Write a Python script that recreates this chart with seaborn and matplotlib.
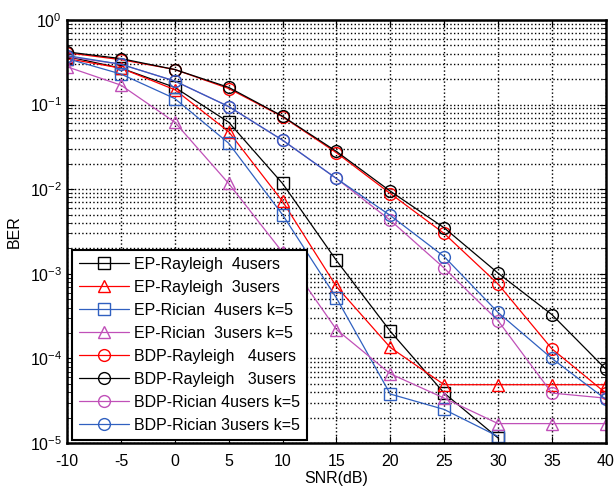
import numpy as np
import pandas as pd
import matplotlib
matplotlib.use("Agg")
import matplotlib.pyplot as plt
import seaborn as sns

# SNR axis
snr = [-10, -5, 0, 5, 10, 15, 20, 25, 30, 35, 40]

# BER curves (nan = not plotted)
ep_rayleigh_4 = [0.37, 0.27, 0.16, 0.062, 0.0117, 1.44e-3, 2.1e-4, 3.9e-5, 1.15e-5, np.nan, np.nan]
ep_rayleigh_3 = [0.35, 0.27, 0.15, 0.048, 0.0072, 7.1e-4, 1.35e-4, 4.9e-5, 4.9e-5, 4.9e-5, 4.9e-5]
ep_rician_4 = [0.35, 0.23, 0.118, 0.035, 0.005, 5.2e-4, 3.8e-5, 2.5e-5, 1.2e-5, np.nan, np.nan]
ep_rician_3 = [0.28, 0.17, 0.062, 0.0117, 1.8e-3, 2.2e-4, 6.6e-5, 3.4e-5, 1.7e-5, 1.7e-5, 1.7e-5]
bdp_rayleigh_4 = [0.41, 0.34, 0.26, 0.155, 0.072, 0.027, 0.0089, 0.0030, 7.6e-4, 1.3e-4, 3.9e-5]
bdp_rayleigh_3 = [0.42, 0.35, 0.26, 0.16, 0.073, 0.028, 0.0095, 0.0035, 1.02e-3, 3.3e-4, 7.5e-5]
bdp_rician_4 = [0.37, 0.30, 0.19, 0.095, 0.038, 0.0134, 0.0043, 1.17e-3, 2.8e-4, 3.9e-5, 3.4e-5]
bdp_rician_3 = [0.38, 0.30, 0.19, 0.095, 0.038, 0.0134, 0.0049, 0.0016, 3.5e-4, 1.0e-4, 3.3e-5]

labels = [
    "EP-Rayleigh  4users",
    "EP-Rayleigh  3users",
    "EP-Rician  4users k=5",
    "EP-Rician  3users k=5",
    "BDP-Rayleigh   4users",
    "BDP-Rayleigh   3users",
    "BDP-Rician 4users k=5",
    "BDP-Rician 3users k=5",
]
series = [ep_rayleigh_4, ep_rayleigh_3, ep_rician_4, ep_rician_3,
          bdp_rayleigh_4, bdp_rayleigh_3, bdp_rician_4, bdp_rician_3]

BLACK = "#000000"
RED = "#ff0000"
BLUE = "#3060c0"
MAGENTA = "#c050b8"
colors = [BLACK, RED, BLUE, MAGENTA, RED, BLACK, MAGENTA, BLUE]
markers = ["s", "^", "s", "^", "o", "o", "o", "o"]

sns.set_style("ticks")
plt.rcParams["font.family"] = ["Liberation Sans", "DejaVu Sans"]
plt.rcParams["mathtext.fontset"] = "custom"
plt.rcParams["mathtext.rm"] = "Liberation Sans"
plt.rcParams["mathtext.it"] = "Liberation Sans:italic"
plt.rcParams["axes.unicode_minus"] = False
for key in ["text.color", "axes.labelcolor", "xtick.color", "ytick.color"]:
    plt.rcParams[key] = "k"

fig = plt.figure(figsize=(6.15, 4.88), dpi=100)
ax = fig.add_axes([0.109, 0.092, 0.876, 0.867])

for lab, vals, c, m in zip(labels, series, colors, markers):
    df = pd.DataFrame({"snr": snr, "ber": vals}).dropna()
    sns.lineplot(data=df, x="snr", y="ber", ax=ax, color=c, marker=m,
                 markersize=8.5, markerfacecolor="none", markeredgecolor=c,
                 markeredgewidth=1.0, linewidth=0.9, label=lab, errorbar=None)

ax.set_yscale("log")
ax.set_xlim(-10, 40)
ax.set_ylim(1e-5, 1)
ax.set_xticks(range(-10, 41, 5))
ax.grid(which="major", axis="x", linestyle=":", color="k", linewidth=1.0)
ax.grid(which="both", axis="y", linestyle=":", color="k", linewidth=1.0)
ax.tick_params(which="both", direction="in", top=True, right=True, labelsize=11.5)
ax.tick_params(which="major", length=5)
ax.tick_params(which="minor", length=3)
ax.tick_params(axis="x", pad=8)
for s in ax.spines.values():
    s.set_linewidth(1.8)
    s.set_color("k")

ax.set_xlabel("SNR(dB)", fontsize=11.5, labelpad=1)
ax.set_ylabel("BER", fontsize=11.5, labelpad=6)

leg = ax.legend(loc="lower left", bbox_to_anchor=(0.009, 0.007), borderaxespad=0,
                fontsize=11.5, handlelength=3.1, handletextpad=0.35,
                labelspacing=0.5, borderpad=0.45, fancybox=False, framealpha=1,
                edgecolor="k")
leg.get_frame().set_linewidth(1.5)

fig.savefig("out.png", dpi=100)
